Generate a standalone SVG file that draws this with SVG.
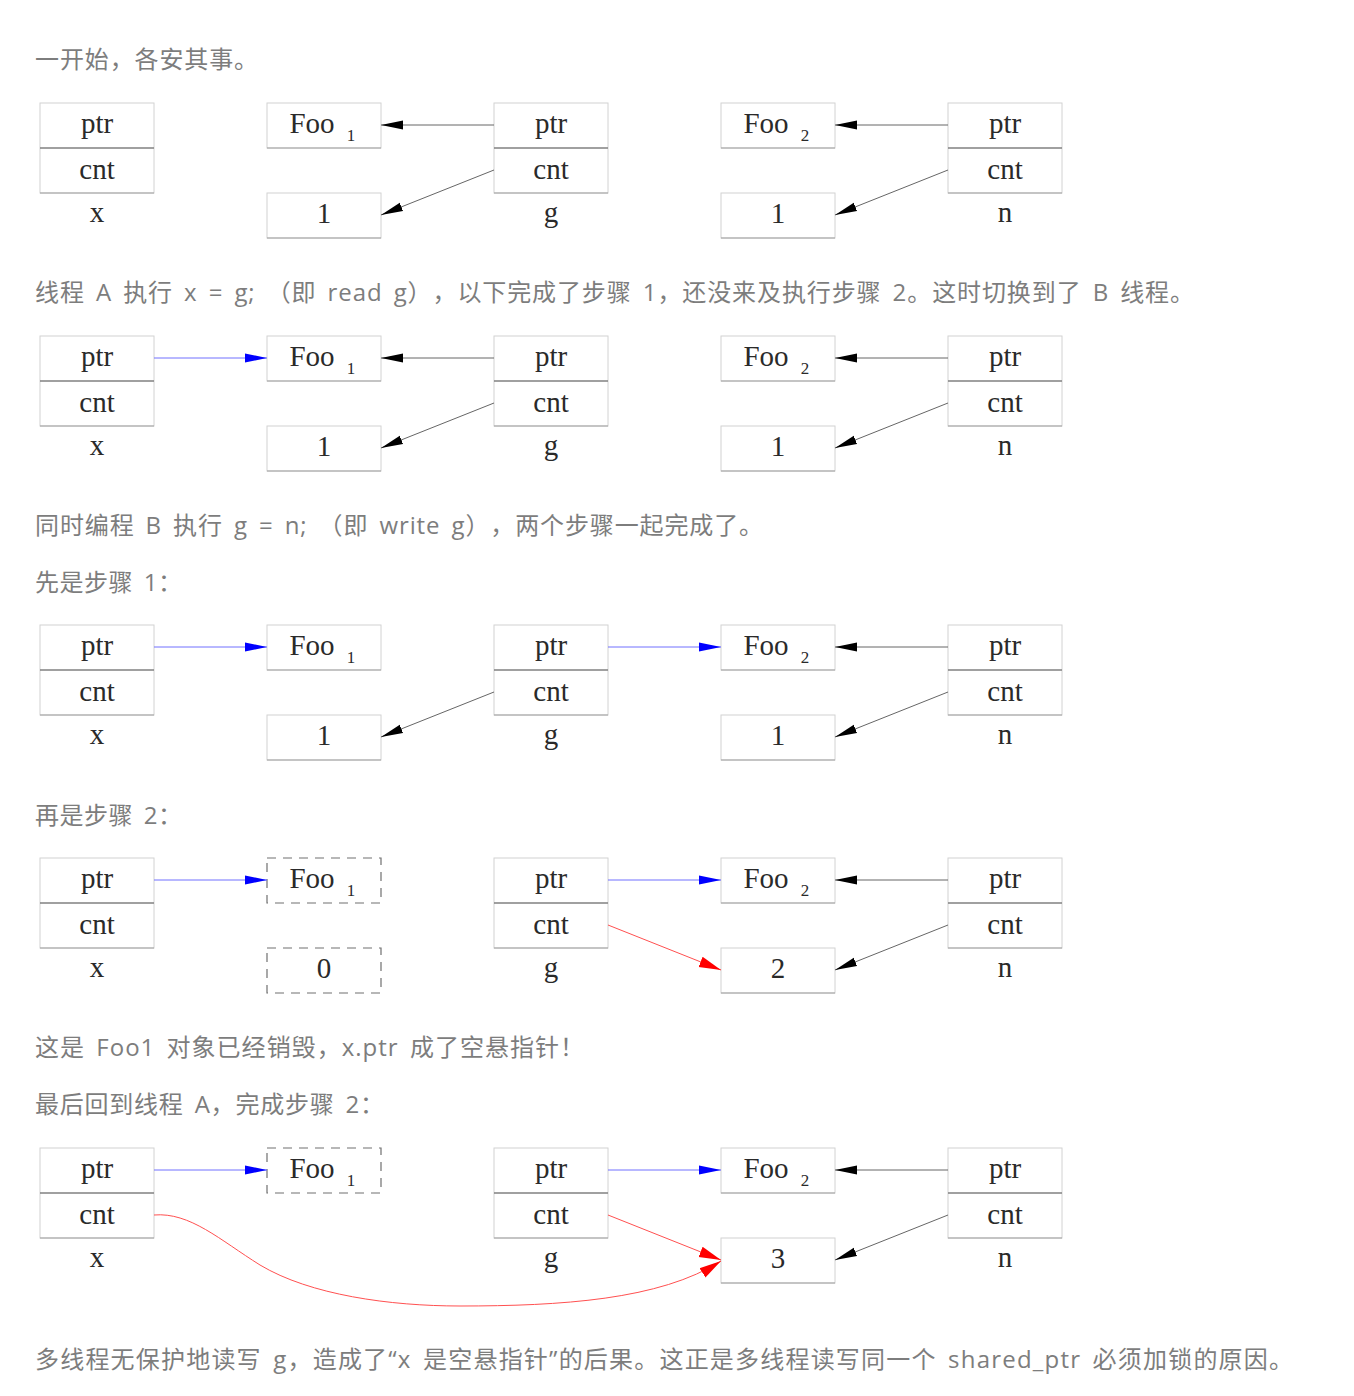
<svg xmlns="http://www.w3.org/2000/svg" width="1354" height="1396" viewBox="0 0 1354 1396">
<style>
.cap{font-family:"Open Sans","Noto Sans CJK SC",sans-serif;font-size:24px;fill:#7d7d7d;letter-spacing:1px;word-spacing:4px;text-spacing-trim:space-all}
.lbl{font-family:"Liberation Serif","DejaVu Serif",serif;font-size:29px;fill:#2a2a2a;text-anchor:middle}
.sub{font-family:"Liberation Serif","DejaVu Serif",serif;font-size:17px;fill:#2a2a2a;text-anchor:middle}
.box{fill:#fff;stroke:#d2d2d2;stroke-width:1}
.dash{fill:#fff;stroke:#707070;stroke-width:1.2;stroke-dasharray:9,7}
.div{stroke:#808080;stroke-width:1.6}
.bot{stroke:#a0a0a0;stroke-width:1.2}
.ek{fill:none;stroke:#666;stroke-width:1;marker-end:url(#ak)}
.eb{fill:none;stroke:#7070ff;stroke-width:1;marker-end:url(#ab)}
.er{fill:none;stroke:#ff5050;stroke-width:1;marker-end:url(#ar)}
</style>
<defs>
<marker id="ak" markerUnits="userSpaceOnUse" markerWidth="24" markerHeight="12" refX="22" refY="6" orient="auto"><path d="M0,1.5 L22,6 L0,10.5 z" fill="#000"/></marker>
<marker id="ab" markerUnits="userSpaceOnUse" markerWidth="24" markerHeight="12" refX="22" refY="6" orient="auto"><path d="M0,1.5 L22,6 L0,10.5 z" fill="#0000ff"/></marker>
<marker id="ar" markerUnits="userSpaceOnUse" markerWidth="24" markerHeight="14" refX="22" refY="7" orient="auto"><path d="M0,1.5 L22,7 L0,12.5 z" fill="#ff0000"/></marker>
<g id="sx">
<rect x="0" y="0" width="114" height="90" class="box"/>
<line x1="0" y1="45" x2="114" y2="45" class="div"/>
<line x1="0" y1="90" x2="114" y2="90" class="bot"/>
<text x="57" y="30" class="lbl">ptr</text>
<text x="57" y="76" class="lbl">cnt</text>
</g>
</defs>
<rect width="1354" height="1396" fill="#fff"/>

<g id="captions">
<text x="35" y="68" class="cap" textLength="224" lengthAdjust="spacing">一开始，各安其事。</text>
<text x="35" y="301" class="cap" textLength="1160" lengthAdjust="spacing">线程 A 执行 x = g; （即 read g），以下完成了步骤 1，还没来及执行步骤 2。这时切换到了 B 线程。</text>
<text x="35" y="534" class="cap" textLength="729" lengthAdjust="spacing">同时编程 B 执行 g = n; （即 write g），两个步骤一起完成了。</text>
<text x="35" y="591" class="cap" textLength="148" lengthAdjust="spacing">先是步骤 1：</text>
<text x="35" y="824" class="cap" textLength="148" lengthAdjust="spacing">再是步骤 2：</text>
<text x="35" y="1056" class="cap" textLength="550" lengthAdjust="spacing">这是 Foo1 对象已经销毁，x.ptr 成了空悬指针！</text>
<text x="35" y="1113" class="cap" textLength="350" lengthAdjust="spacing">最后回到线程 A，完成步骤 2：</text>
<text x="35" y="1368" class="cap" textLength="1259" lengthAdjust="spacing">多线程无保护地读写 g，造成了“x 是空悬指针”的后果。这正是多线程读写同一个 shared_ptr 必须加锁的原因。</text>
</g>

<!-- Diagram 1 -->
<g id="diagram1" transform="translate(0,103)">
<g id="d1-x"><use href="#sx" x="40"/><text x="97" y="119" class="lbl">x</text></g>
<g id="d1-foo1"><rect x="267" y="0" width="114" height="45" class="box"/><line x1="267" y1="45" x2="381" y2="45" class="bot"/><text x="312" y="30" class="lbl">Foo</text><text x="351" y="38" class="sub">1</text></g>
<g id="d1-cnt1"><rect x="267" y="90" width="114" height="45" class="box"/><line x1="267" y1="135" x2="381" y2="135" class="bot"/><text x="324" y="120" class="lbl">1</text></g>
<g id="d1-g"><use href="#sx" x="494"/><text x="551" y="119" class="lbl">g</text></g>
<g id="d1-foo2"><rect x="721" y="0" width="114" height="45" class="box"/><line x1="721" y1="45" x2="835" y2="45" class="bot"/><text x="766" y="30" class="lbl">Foo</text><text x="805" y="38" class="sub">2</text></g>
<g id="d1-cnt2"><rect x="721" y="90" width="114" height="45" class="box"/><line x1="721" y1="135" x2="835" y2="135" class="bot"/><text x="778" y="120" class="lbl">1</text></g>
<g id="d1-n"><use href="#sx" x="948"/><text x="1005" y="119" class="lbl">n</text></g>
<g id="d1-connectors">
<path d="M494,22 L381,22" class="ek"/>
<path d="M494,67 L381,112" class="ek"/>
<path d="M948,22 L835,22" class="ek"/>
<path d="M948,67 L835,112" class="ek"/>
</g>
</g>

<!-- Diagram 2 -->
<g id="diagram2" transform="translate(0,336)">
<g id="d2-x"><use href="#sx" x="40"/><text x="97" y="119" class="lbl">x</text></g>
<g id="d2-foo1"><rect x="267" y="0" width="114" height="45" class="box"/><line x1="267" y1="45" x2="381" y2="45" class="bot"/><text x="312" y="30" class="lbl">Foo</text><text x="351" y="38" class="sub">1</text></g>
<g id="d2-cnt1"><rect x="267" y="90" width="114" height="45" class="box"/><line x1="267" y1="135" x2="381" y2="135" class="bot"/><text x="324" y="120" class="lbl">1</text></g>
<g id="d2-g"><use href="#sx" x="494"/><text x="551" y="119" class="lbl">g</text></g>
<g id="d2-foo2"><rect x="721" y="0" width="114" height="45" class="box"/><line x1="721" y1="45" x2="835" y2="45" class="bot"/><text x="766" y="30" class="lbl">Foo</text><text x="805" y="38" class="sub">2</text></g>
<g id="d2-cnt2"><rect x="721" y="90" width="114" height="45" class="box"/><line x1="721" y1="135" x2="835" y2="135" class="bot"/><text x="778" y="120" class="lbl">1</text></g>
<g id="d2-n"><use href="#sx" x="948"/><text x="1005" y="119" class="lbl">n</text></g>
<g id="d2-connectors">
<path d="M154,22 L267,22" class="eb"/>
<path d="M494,22 L381,22" class="ek"/>
<path d="M494,67 L381,112" class="ek"/>
<path d="M948,22 L835,22" class="ek"/>
<path d="M948,67 L835,112" class="ek"/>
</g>
</g>

<!-- Diagram 3 -->
<g id="diagram3" transform="translate(0,625)">
<g id="d3-x"><use href="#sx" x="40"/><text x="97" y="119" class="lbl">x</text></g>
<g id="d3-foo1"><rect x="267" y="0" width="114" height="45" class="box"/><line x1="267" y1="45" x2="381" y2="45" class="bot"/><text x="312" y="30" class="lbl">Foo</text><text x="351" y="38" class="sub">1</text></g>
<g id="d3-cnt1"><rect x="267" y="90" width="114" height="45" class="box"/><line x1="267" y1="135" x2="381" y2="135" class="bot"/><text x="324" y="120" class="lbl">1</text></g>
<g id="d3-g"><use href="#sx" x="494"/><text x="551" y="119" class="lbl">g</text></g>
<g id="d3-foo2"><rect x="721" y="0" width="114" height="45" class="box"/><line x1="721" y1="45" x2="835" y2="45" class="bot"/><text x="766" y="30" class="lbl">Foo</text><text x="805" y="38" class="sub">2</text></g>
<g id="d3-cnt2"><rect x="721" y="90" width="114" height="45" class="box"/><line x1="721" y1="135" x2="835" y2="135" class="bot"/><text x="778" y="120" class="lbl">1</text></g>
<g id="d3-n"><use href="#sx" x="948"/><text x="1005" y="119" class="lbl">n</text></g>
<g id="d3-connectors">
<path d="M154,22 L267,22" class="eb"/>
<path d="M608,22 L721,22" class="eb"/>
<path d="M494,67 L381,112" class="ek"/>
<path d="M948,22 L835,22" class="ek"/>
<path d="M948,67 L835,112" class="ek"/>
</g>
</g>

<!-- Diagram 4 -->
<g id="diagram4" transform="translate(0,858)">
<g id="d4-x"><use href="#sx" x="40"/><text x="97" y="119" class="lbl">x</text></g>
<g id="d4-foo1"><rect x="267" y="0" width="114" height="45" class="dash"/><text x="312" y="30" class="lbl">Foo</text><text x="351" y="38" class="sub">1</text></g>
<g id="d4-cnt1"><rect x="267" y="90" width="114" height="45" class="dash"/><text x="324" y="120" class="lbl">0</text></g>
<g id="d4-g"><use href="#sx" x="494"/><text x="551" y="119" class="lbl">g</text></g>
<g id="d4-foo2"><rect x="721" y="0" width="114" height="45" class="box"/><line x1="721" y1="45" x2="835" y2="45" class="bot"/><text x="766" y="30" class="lbl">Foo</text><text x="805" y="38" class="sub">2</text></g>
<g id="d4-cnt2"><rect x="721" y="90" width="114" height="45" class="box"/><line x1="721" y1="135" x2="835" y2="135" class="bot"/><text x="778" y="120" class="lbl">2</text></g>
<g id="d4-n"><use href="#sx" x="948"/><text x="1005" y="119" class="lbl">n</text></g>
<g id="d4-connectors">
<path d="M154,22 L267,22" class="eb"/>
<path d="M608,22 L721,22" class="eb"/>
<path d="M608,67 L721,112" class="er"/>
<path d="M948,22 L835,22" class="ek"/>
<path d="M948,67 L835,112" class="ek"/>
</g>
</g>

<!-- Diagram 5 -->
<g id="diagram5" transform="translate(0,1148)">
<g id="d5-x"><use href="#sx" x="40"/><text x="97" y="119" class="lbl">x</text></g>
<g id="d5-foo1"><rect x="267" y="0" width="114" height="45" class="dash"/><text x="312" y="30" class="lbl">Foo</text><text x="351" y="38" class="sub">1</text></g>
<g id="d5-g"><use href="#sx" x="494"/><text x="551" y="119" class="lbl">g</text></g>
<g id="d5-foo2"><rect x="721" y="0" width="114" height="45" class="box"/><line x1="721" y1="45" x2="835" y2="45" class="bot"/><text x="766" y="30" class="lbl">Foo</text><text x="805" y="38" class="sub">2</text></g>
<g id="d5-cnt2"><rect x="721" y="90" width="114" height="45" class="box"/><line x1="721" y1="135" x2="835" y2="135" class="bot"/><text x="778" y="120" class="lbl">3</text></g>
<g id="d5-n"><use href="#sx" x="948"/><text x="1005" y="119" class="lbl">n</text></g>
<g id="d5-connectors">
<path d="M154,22 L267,22" class="eb"/>
<path d="M154,67 C190,64 220,92 260,117 C310,147 390,158 460,158 C560,158 660,152 721,113" class="er"/>
<path d="M608,22 L721,22" class="eb"/>
<path d="M608,67 L721,112" class="er"/>
<path d="M948,22 L835,22" class="ek"/>
<path d="M948,67 L835,112" class="ek"/>
</g>
</g>
</svg>
